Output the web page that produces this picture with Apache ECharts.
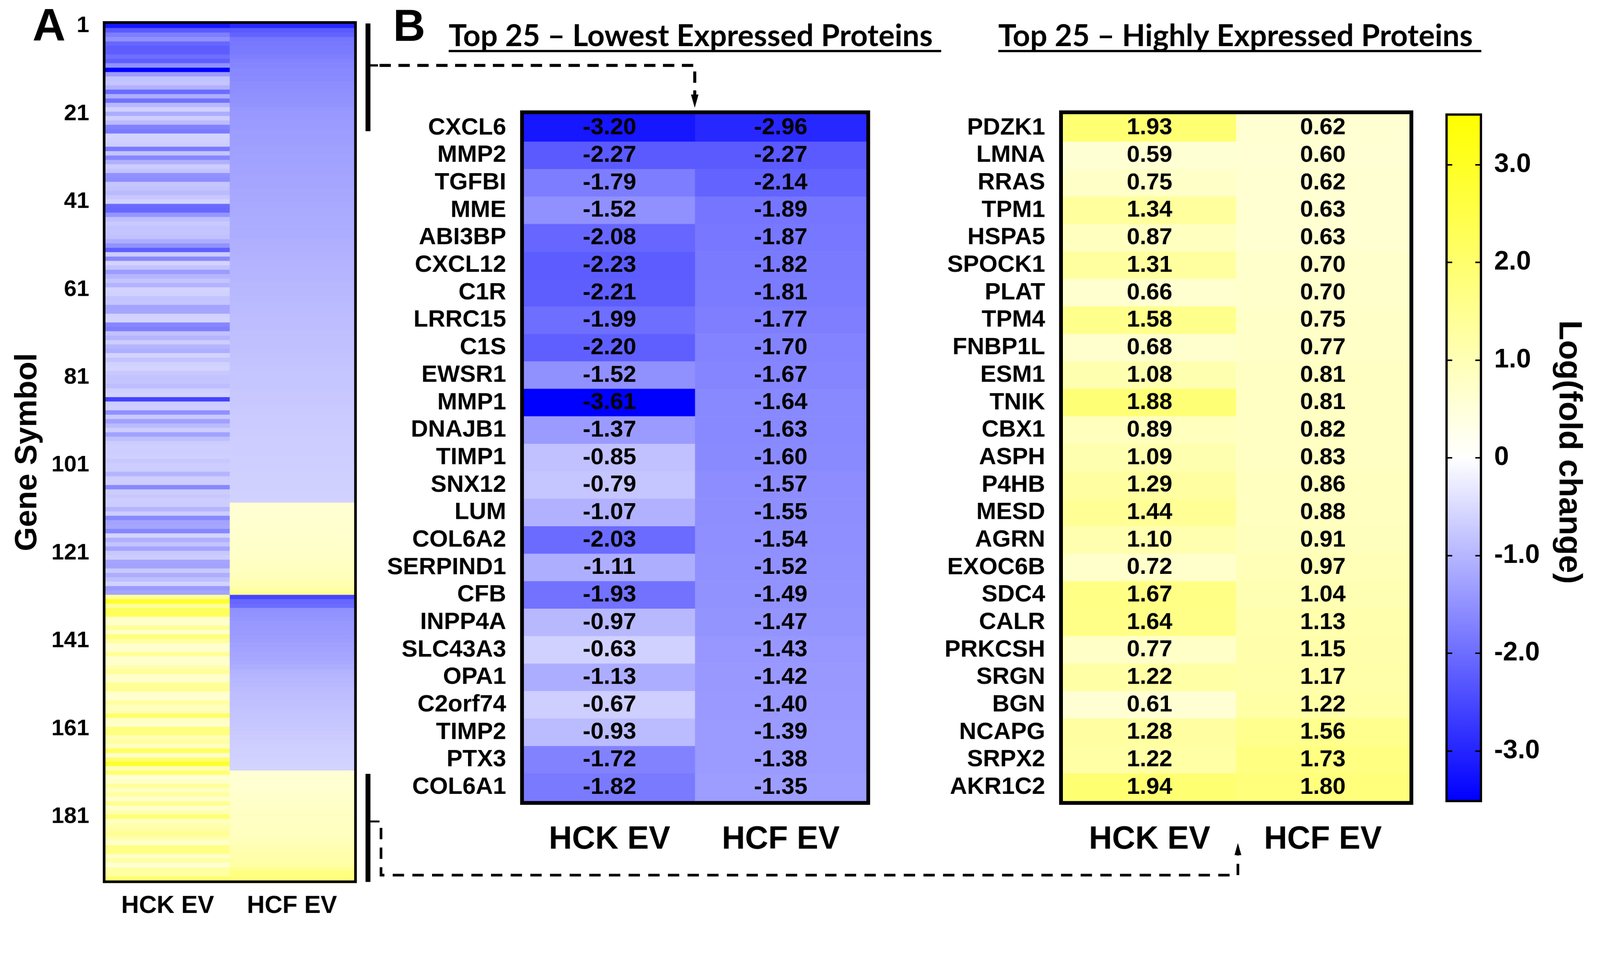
<!DOCTYPE html>
<html><head><meta charset="utf-8">
<script src="https://cdn.jsdelivr.net/npm/echarts@6/dist/echarts.min.js"></script>
<style>html,body{margin:0;padding:0;background:#fff;overflow:hidden}#c{width:4233px;height:2465px;transform-origin:0 0}</style>
</head><body><div id="c"></div>
<script>
// ---------------- DATA ----------------
const colLabels = ['HCK EV', 'HCF EV'];

const lowGenes = ['CXCL6','MMP2','TGFBI','MME','ABI3BP','CXCL12','C1R','LRRC15','C1S','EWSR1','MMP1','DNAJB1','TIMP1','SNX12','LUM','COL6A2','SERPIND1','CFB','INPP4A','SLC43A3','OPA1','C2orf74','TIMP2','PTX3','COL6A1'];
const lowHCK = [-3.20,-2.27,-1.79,-1.52,-2.08,-2.23,-2.21,-1.99,-2.20,-1.52,-3.61,-1.37,-0.85,-0.79,-1.07,-2.03,-1.11,-1.93,-0.97,-0.63,-1.13,-0.67,-0.93,-1.72,-1.82];
const lowHCF = [-2.96,-2.27,-2.14,-1.89,-1.87,-1.82,-1.81,-1.77,-1.70,-1.67,-1.64,-1.63,-1.60,-1.57,-1.55,-1.54,-1.52,-1.49,-1.47,-1.43,-1.42,-1.40,-1.39,-1.38,-1.35];

const highGenes = ['PDZK1','LMNA','RRAS','TPM1','HSPA5','SPOCK1','PLAT','TPM4','FNBP1L','ESM1','TNIK','CBX1','ASPH','P4HB','MESD','AGRN','EXOC6B','SDC4','CALR','PRKCSH','SRGN','BGN','NCAPG','SRPX2','AKR1C2'];
const highHCK = [1.93,0.59,0.75,1.34,0.87,1.31,0.66,1.58,0.68,1.08,1.88,0.89,1.09,1.29,1.44,1.10,0.72,1.67,1.64,0.77,1.22,0.61,1.28,1.22,1.94];
const highHCF = [0.62,0.60,0.62,0.63,0.63,0.70,0.70,0.75,0.77,0.81,0.81,0.82,0.83,0.86,0.88,0.91,0.97,1.04,1.13,1.15,1.17,1.22,1.56,1.73,1.80];

// Panel A rows 26-170 (between the top-25 lowest and the top-25 highest)
const midHCK = [
 -0.61,-0.63,-0.68,-1.84,-0.81,-1.66,-1.09,-0.70,-0.83,-1.51,-1.57,-0.80,-0.84,-0.95,-0.76,-0.60,-2.05,-2.08,-1.45,-0.88,-0.74,-0.83,-0.81,-0.85,
 -1.11,-1.50,-2.19,-0.70,-1.64,-0.61,-0.83,-1.36,-1.02,-0.81,-1.04,-0.60,-0.63,-0.82,-0.80,-1.25,-1.23,-0.62,-0.61,-1.66,
 -1.77,-0.84,-1.03,-0.68,-1.02,-1.11,-0.60,-0.82,-0.63,-0.61,-0.75,-0.83,-0.81,-0.90,-0.68,-0.62,-2.60,-0.70,-0.67,-1.52,
 -0.74,-1.31,-0.95,-0.69,-1.29,-0.88,-0.70,-0.66,-0.68,
 -0.65,-0.75,-0.69,-0.70,-1.03,-0.68,-0.69,-1.65,-0.70,-0.76,-0.69,
 -0.70,-1.02,-0.68,-1.64,-1.25,-1.22,-1.66,-0.61,-1.09,-0.83,-1.25,-0.76,-0.68,-1.23,-1.26,-0.74,-1.11,-0.88,-0.62,-1.38,-1.25,
 1.45,2.93,1.42,2.24,2.28,0.76,0.68,1.46,0.70,1.84,1.31,0.67,0.70,1.43,0.68,0.71,1.04,1.45,0.74,0.77,
 1.42,1.47,0.69,0.66,1.29,0.90,1.02,2.12,0.83,0.68,1.71,1.74,1.05,1.28,0.88,2.25,0.76,1.98,2.91,1.03
];
const midHCF = [
 -1.34,-1.33,-1.33,-1.31,-1.30,-1.29,-1.29,-1.27,-1.26,-1.25,
 -1.24,-1.24,-1.22,-1.21,-1.20,-1.19,-1.18,-1.17,-1.16,-1.15,
 -1.14,-1.14,-1.13,-1.12,-1.10,-1.09,-1.08,-1.07,-1.06,-1.05,
 -1.04,-1.02,-1.01,-1.00,-0.99,-0.98,-0.97,-0.96,-0.95,-0.94,
 -0.93,-0.92,-0.91,-0.90,-0.89,-0.88,-0.87,-0.86,-0.86,-0.85,
 -0.84,-0.83,-0.82,-0.81,-0.80,-0.79,-0.79,-0.78,-0.77,-0.76,
 -0.75,-0.75,-0.74,-0.73,-0.72,-0.72,-0.71,-0.70,-0.70,-0.69,
 -0.69,-0.68,-0.68,-0.67,-0.67,-0.66,-0.66,-0.65,-0.65,-0.64,
 -0.64,-0.63,-0.63,-0.62,
 0.60,0.61,0.62,0.63,0.65,0.66,0.67,0.69,0.70,0.72,0.74,0.76,0.78,0.81,0.84,0.88,0.93,0.99,1.07,1.20,1.47,
 -2.55,-2.08,-2.02,-1.52,-1.48,-1.45,-1.42,-1.40,-1.38,-1.36,-1.33,-1.30,-1.27,-1.24,-1.21,-1.18,-1.12,-1.06,-1.02,-0.99,
 -0.96,-0.93,-0.91,-0.89,-0.87,-0.85,-0.83,-0.81,-0.79,-0.77,-0.75,-0.73,-0.71,-0.69,-0.67,-0.65,-0.64,-0.62,-0.61,-0.60
];

const yTickLabelsA = ['1','21','41','61','81','101','121','141','161','181'];
const cbarTicks = [-3, -2, -1, 0, 1, 2, 3];
const cbarMin = -3.5, cbarMax = 3.5;

// ---------------- BUILD ----------------
const FONT = '"Liberation Sans", Arial, Helvetica, sans-serif';
const hckA = lowHCK.concat(midHCK, highHCK);
const hcfA = lowHCF.concat(midHCF, highHCF);
const rowsA = hckA.map((v, i) => String(i + 1));
const dataA = [];
hckA.forEach((v, i) => { dataA.push([0, i, v]); dataA.push([1, i, hcfA[i]]); });
const dataLow = [], dataHigh = [];
lowGenes.forEach((g, i) => { dataLow.push([0, i, lowHCK[i]]); dataLow.push([1, i, lowHCF[i]]); });
highGenes.forEach((g, i) => { dataHigh.push([0, i, highHCK[i]]); dataHigh.push([1, i, highHCF[i]]); });

const showTickA = (idx, val) => yTickLabelsA.indexOf(val) >= 0;

const grids = [
  { left: 279, top: 63, width: 658, height: 2266 },
  { left: 1386, top: 302, width: 906, height: 1817 },
  { left: 2812, top: 302, width: 917, height: 1817 },
  { left: 3830, top: 306, width: 85, height: 1810 }
];

function catX(gi, fs, margin, tlen, tw) {
  return { gridIndex: gi, type: 'category', data: colLabels, position: 'bottom',
    axisLine: { show: false }, splitLine: { show: false },
    axisTick: { alignWithLabel: true, interval: 0, length: tlen, lineStyle: { width: tw, color: '#000' } },
    axisLabel: { interval: 0, fontSize: fs, fontWeight: 'bold', color: '#000', margin: margin, fontFamily: FONT } };
}
function geneY(gi, genes) {
  return { gridIndex: gi, type: 'category', data: genes, inverse: true,
    axisLine: { show: false }, splitLine: { show: false },
    axisTick: { alignWithLabel: true, interval: 0, length: 44, lineStyle: { width: 8, color: '#000' } },
    axisLabel: { interval: 0, hideOverlap: false, fontSize: 63, fontWeight: 'bold', color: '#000', margin: 47, fontFamily: FONT } };
}
const cellLabel = { show: true, formatter: p => p.value[2].toFixed(2), fontSize: 62, fontWeight: 'bold', color: '#000', fontFamily: FONT };

const option = {
  backgroundColor: '#fff',
  animation: false,
  grid: grids,
  xAxis: [
    catX(0, 65, 36, 27, 6),
    catX(1, 85, 60, 40, 7),
    catX(2, 85, 60, 40, 7),
    { gridIndex: 3, type: 'value', show: false, min: 0, max: 1 }
  ],
  yAxis: [
    { gridIndex: 0, type: 'category', data: rowsA, inverse: true,
      axisLine: { show: false }, splitLine: { show: false },
      axisTick: { alignWithLabel: true, interval: showTickA, length: 30, lineStyle: { width: 6, color: '#000' } },
      axisLabel: { interval: showTickA, fontSize: 60, fontWeight: 'bold', color: '#000', margin: 43, fontFamily: FONT },
      name: 'Gene Symbol', nameLocation: 'middle', nameRotate: 90, nameGap: 165,
      nameTextStyle: { fontSize: 82, fontWeight: 'bold', color: '#000', fontFamily: FONT } },
    geneY(1, lowGenes),
    geneY(2, highGenes),
    { gridIndex: 3, type: 'value', min: cbarMin, max: cbarMax, position: 'left', z: 10,
      axisLine: { show: false }, splitLine: { show: false },
      axisTick: { show: true, inside: true, length: 12, customValues: cbarTicks, lineStyle: { width: 4, color: '#000' } },
      axisLabel: { show: false } },
    { gridIndex: 3, type: 'value', min: cbarMin, max: cbarMax, position: 'right', z: 10,
      axisLine: { show: false }, splitLine: { show: false },
      axisTick: { show: true, inside: true, length: 12, customValues: cbarTicks, lineStyle: { width: 4, color: '#000' } },
      axisLabel: { show: true, customValues: cbarTicks, margin: 38, fontSize: 70, fontWeight: 'bold', color: '#000', fontFamily: FONT,
        formatter: v => (v === 0 ? '0' : v.toFixed(1)) } }
  ],
  visualMap: { type: 'continuous', show: false, min: cbarMin, max: cbarMax, seriesIndex: [0, 1, 2],
    inRange: { color: ['#0000ff', '#ffffff', '#ffff00'] } },
  series: [
    { type: 'heatmap', xAxisIndex: 0, yAxisIndex: 0, data: dataA, itemStyle: { borderWidth: 0 }, emphasis: { disabled: true }, progressive: 0 },
    { type: 'heatmap', xAxisIndex: 1, yAxisIndex: 1, data: dataLow, label: cellLabel, emphasis: { disabled: true }, progressive: 0 },
    { type: 'heatmap', xAxisIndex: 2, yAxisIndex: 2, data: dataHigh, label: cellLabel, emphasis: { disabled: true }, progressive: 0 }
  ],
  graphic: [
    // colour bar gradient
    { type: 'rect', z: 1, shape: { x: 3830, y: 306, width: 85, height: 1810 },
      style: { fill: new echarts.graphic.LinearGradient(0, 0, 0, 1, [
        { offset: 0, color: '#ffff00' }, { offset: 0.5, color: '#ffffff' }, { offset: 1, color: '#0000ff' }]) } },
    // borders
    { type: 'rect', z: 100, shape: { x: 275.5, y: 59.5, width: 665, height: 2273 }, style: { fill: 'none', stroke: '#000', lineWidth: 7 } },
    { type: 'rect', z: 100, shape: { x: 1381, y: 297, width: 916, height: 1827 }, style: { fill: 'none', stroke: '#000', lineWidth: 10 } },
    { type: 'rect', z: 100, shape: { x: 2807, y: 297, width: 927, height: 1827 }, style: { fill: 'none', stroke: '#000', lineWidth: 10 } },
    { type: 'rect', z: 100, shape: { x: 3827, y: 303, width: 91, height: 1816 }, style: { fill: 'none', stroke: '#000', lineWidth: 6 } },
    // panel letters
    { type: 'text', z: 100, x: 86, y: 74, style: { text: 'A', fontSize: 121, fontWeight: 'bold', fontFamily: FONT, fill: '#000', align: 'left', verticalAlign: 'middle' } },
    { type: 'text', z: 100, x: 1040, y: 75, style: { text: 'B', fontSize: 118, fontWeight: 'bold', fontFamily: FONT, fill: '#000', align: 'left', verticalAlign: 'middle' } },
    // titles
    { type: 'text', z: 100, x: 1187, y: 96, style: { text: 'Top 25 \u2013 Lowest Expressed Proteins', fontSize: 80, fontWeight: 'bold', fontFamily: 'Lato, "Open Sans", sans-serif', fill: '#000', align: 'left', verticalAlign: 'middle' } },
    { type: 'line', z: 100, shape: { x1: 1187, y1: 135, x2: 2490, y2: 135 }, style: { stroke: '#000', lineWidth: 6 } },
    { type: 'text', z: 100, x: 2641, y: 96, style: { text: 'Top 25 \u2013 Highly Expressed Proteins', fontSize: 80, fontWeight: 'bold', fontFamily: 'Lato, "Open Sans", sans-serif', fill: '#000', align: 'left', verticalAlign: 'middle' } },
    { type: 'line', z: 100, shape: { x1: 2641, y1: 135, x2: 3919, y2: 135 }, style: { stroke: '#000', lineWidth: 6 } },
    // colour bar title
    { type: 'text', z: 100, x: 4150, y: 1196, rotation: -Math.PI / 2, style: { text: 'Log(fold change)', fontSize: 86, fontWeight: 'bold', fontFamily: FONT, fill: '#000', align: 'center', verticalAlign: 'middle' } },
    // bracket bars beside panel A
    { type: 'rect', z: 100, shape: { x: 967, y: 62, width: 13, height: 285 }, style: { fill: '#000' } },
    { type: 'rect', z: 100, shape: { x: 967, y: 2047, width: 13, height: 286 }, style: { fill: '#000' } },
    // top connector
    { type: 'line', z: 100, shape: { x1: 980, y1: 173, x2: 1000, y2: 173 }, style: { stroke: '#000', lineWidth: 6 } },
    { type: 'polyline', z: 100, shape: { points: [[1004, 173], [1838, 173], [1838, 250]] }, style: { fill: 'none', stroke: '#000', lineWidth: 8, lineDash: [30, 20] } },
    { type: 'polygon', z: 100, shape: { points: [[1828, 250], [1848, 250], [1838, 285]] }, style: { fill: '#000' } },
    // bottom connector
    { type: 'line', z: 100, shape: { x1: 980, y1: 2173, x2: 1004, y2: 2173 }, style: { stroke: '#000', lineWidth: 5 } },
    { type: 'polyline', z: 100, shape: { points: [[1008, 2190], [1008, 2315], [3275, 2315], [3275, 2262]] }, style: { fill: 'none', stroke: '#000', lineWidth: 7, lineDash: [30, 22] } },
    { type: 'polygon', z: 100, shape: { points: [[3266, 2262], [3284, 2262], [3275, 2230]] }, style: { fill: '#000' } }
  ]
};

// fit the 4233x2465 drawing into the actual viewport
const el = document.getElementById('c');
const vw = window.innerWidth || document.documentElement.clientWidth || 4233;
const vh = window.innerHeight || document.documentElement.clientHeight || 2465;
const s = Math.min(vw / 4233, vh / 2465, 1);
if (s < 0.999) el.style.transform = 'scale(' + s + ')';

const chart = echarts.init(el, null, { renderer: 'canvas', width: 4233, height: 2465 });
chart.setOption(option);
</script>
</body></html>
